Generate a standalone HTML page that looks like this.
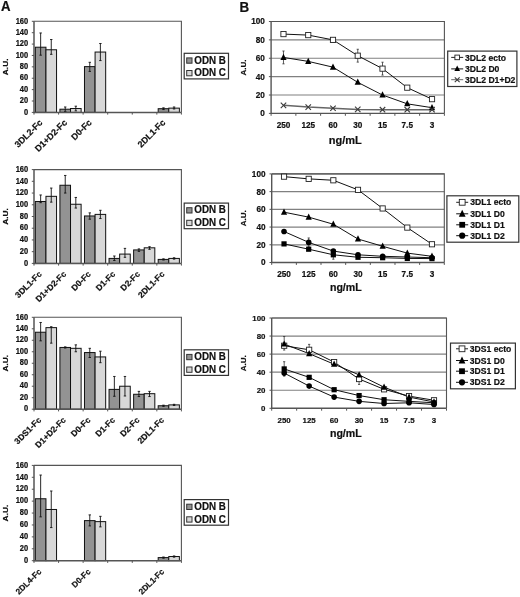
<!DOCTYPE html>
<html><head><meta charset="utf-8"><style>
html,body{margin:0;padding:0;background:#fff;width:520px;height:597px;overflow:hidden}
svg{display:block;will-change:transform}
text{font-family:"Liberation Sans", sans-serif;font-weight:bold;fill:#111;stroke:#111;stroke-width:0.2px}
</style></head><body>
<svg width="520" height="597" viewBox="0 0 520 597">
<rect width="520" height="597" fill="#fff"/>
<text transform="translate(1.0 11.1) scale(1 1.08)" font-size="13.2">A</text>
<text transform="translate(239.5 11.8) scale(1 1.09)" font-size="13.4">B</text>
<path d="M34 21.3H181.4V112.4" fill="none" stroke="#555" stroke-width="1.1"/>
<rect x="35.35" y="47.21" width="10.6" height="65.19" fill="#939393" stroke="#111" stroke-width="1"/>
<rect x="45.95" y="49.77" width="10.6" height="62.63" fill="#d8d8d8" stroke="#111" stroke-width="1"/>
<path d="M40.65 55.18V32.97M39.45 32.97H41.85M39.45 55.18H41.85" stroke="#111" stroke-width="0.9" fill="none"/>
<path d="M51.25 54.32V39.52M50.05 39.52H52.45M50.05 54.32H52.45" stroke="#111" stroke-width="0.9" fill="none"/>
<rect x="59.92" y="109.21" width="10.6" height="3.19" fill="#939393" stroke="#111" stroke-width="1"/>
<rect x="70.52" y="108.53" width="10.6" height="3.87" fill="#d8d8d8" stroke="#111" stroke-width="1"/>
<path d="M65.22 111.43V106.99M64.02 106.99H66.42M64.02 111.43H66.42" stroke="#111" stroke-width="0.9" fill="none"/>
<path d="M75.82 110.86V106.19M74.62 106.19H77.02M74.62 110.86H77.02" stroke="#111" stroke-width="0.9" fill="none"/>
<rect x="84.48" y="66.62" width="10.6" height="45.78" fill="#939393" stroke="#111" stroke-width="1"/>
<rect x="95.08" y="52.05" width="10.6" height="60.35" fill="#d8d8d8" stroke="#111" stroke-width="1"/>
<path d="M89.78 71.41V62.3M88.58 62.3H90.98M88.58 71.41H90.98" stroke="#111" stroke-width="0.9" fill="none"/>
<path d="M100.38 60.59V43.51M99.18 43.51H101.58M99.18 60.59H101.58" stroke="#111" stroke-width="0.9" fill="none"/>
<rect x="158.18" y="108.7" width="10.6" height="3.7" fill="#939393" stroke="#111" stroke-width="1"/>
<rect x="168.78" y="108.13" width="10.6" height="4.27" fill="#d8d8d8" stroke="#111" stroke-width="1"/>
<path d="M163.48 109.55V107.84M162.28 107.84H164.68M162.28 109.55H164.68" stroke="#111" stroke-width="0.9" fill="none"/>
<path d="M174.08 108.98V106.99M172.88 106.99H175.28M172.88 108.98H175.28" stroke="#111" stroke-width="0.9" fill="none"/>
<path d="M34 21.3V112.4H181.4" fill="none" stroke="#555" stroke-width="1.5"/>
<path d="M31.8 112.4H34" stroke="#555" stroke-width="1"/>
<text font-size="7.5" text-anchor="end" transform="translate(28.2 114.6) scale(1 1.15)">0</text>
<path d="M31.8 101.01H34" stroke="#555" stroke-width="1"/>
<text font-size="7.5" text-anchor="end" transform="translate(28.2 103.21) scale(1 1.15)">20</text>
<path d="M31.8 89.62H34" stroke="#555" stroke-width="1"/>
<text font-size="7.5" text-anchor="end" transform="translate(28.2 91.83) scale(1 1.15)">40</text>
<path d="M31.8 78.24H34" stroke="#555" stroke-width="1"/>
<text font-size="7.5" text-anchor="end" transform="translate(28.2 80.44) scale(1 1.15)">60</text>
<path d="M31.8 66.85H34" stroke="#555" stroke-width="1"/>
<text font-size="7.5" text-anchor="end" transform="translate(28.2 69.05) scale(1 1.15)">80</text>
<path d="M31.8 55.46H34" stroke="#555" stroke-width="1"/>
<text font-size="7.5" text-anchor="end" transform="translate(28.2 57.66) scale(1 1.15)">100</text>
<path d="M31.8 44.08H34" stroke="#555" stroke-width="1"/>
<text font-size="7.5" text-anchor="end" transform="translate(28.2 46.28) scale(1 1.15)">120</text>
<path d="M31.8 32.69H34" stroke="#555" stroke-width="1"/>
<text font-size="7.5" text-anchor="end" transform="translate(28.2 34.89) scale(1 1.15)">140</text>
<path d="M31.8 21.3H34" stroke="#555" stroke-width="1"/>
<text font-size="7.5" text-anchor="end" transform="translate(28.2 23.5) scale(1 1.15)">160</text>
<path d="M34 112.4V114.6" stroke="#555" stroke-width="1"/>
<path d="M58.57 112.4V114.6" stroke="#555" stroke-width="1"/>
<path d="M83.13 112.4V114.6" stroke="#555" stroke-width="1"/>
<path d="M107.7 112.4V114.6" stroke="#555" stroke-width="1"/>
<path d="M132.27 112.4V114.6" stroke="#555" stroke-width="1"/>
<path d="M156.83 112.4V114.6" stroke="#555" stroke-width="1"/>
<path d="M181.4 112.4V114.6" stroke="#555" stroke-width="1"/>
<text x="43.08" y="123.2" font-size="8.9" text-anchor="end" transform="rotate(-45 43.08 123.2)">3DL2-Fc</text>
<text x="67.65" y="123.2" font-size="8.9" text-anchor="end" transform="rotate(-45 67.65 123.2)">D1+D2-Fc</text>
<text x="92.22" y="123.2" font-size="8.9" text-anchor="end" transform="rotate(-45 92.22 123.2)">D0-Fc</text>
<text x="165.92" y="123.2" font-size="8.9" text-anchor="end" transform="rotate(-45 165.92 123.2)">2DL1-Fc</text>
<text font-size="7.6" text-anchor="middle" transform="translate(8.2 66.85) rotate(-90) scale(1.1 1)">A.U.</text>
<rect x="184.2" y="53.3" width="44.3" height="25.6" fill="#fff" stroke="#333" stroke-width="1.2"/>
<rect x="186.7" y="57.9" width="5.3" height="5.3" fill="#939393" stroke="#333" stroke-width="1"/>
<text transform="translate(194.3 63.6) scale(1 1.1)" font-size="9.8">ODN B</text>
<rect x="186.7" y="70.5" width="5.3" height="5.3" fill="#d8d8d8" stroke="#333" stroke-width="1"/>
<text transform="translate(194.3 76.2) scale(1 1.1)" font-size="9.8">ODN C</text>
<path d="M34 169.6H181.4V263.4" fill="none" stroke="#555" stroke-width="1.1"/>
<rect x="35.35" y="201.49" width="10.6" height="61.91" fill="#939393" stroke="#111" stroke-width="1"/>
<rect x="45.95" y="196.33" width="10.6" height="67.07" fill="#d8d8d8" stroke="#111" stroke-width="1"/>
<path d="M40.65 202.66V194.98M39.45 194.98H41.85M39.45 202.66H41.85" stroke="#111" stroke-width="0.9" fill="none"/>
<path d="M51.25 202.14V188.07M50.05 188.07H52.45M50.05 202.14H52.45" stroke="#111" stroke-width="0.9" fill="none"/>
<rect x="59.92" y="185.25" width="10.6" height="78.15" fill="#939393" stroke="#111" stroke-width="1"/>
<rect x="70.52" y="204.25" width="10.6" height="59.15" fill="#d8d8d8" stroke="#111" stroke-width="1"/>
<path d="M65.22 193.05V175.46M64.02 175.46H66.42M64.02 193.05H66.42" stroke="#111" stroke-width="0.9" fill="none"/>
<path d="M75.82 208.06V197.45M74.62 197.45H77.02M74.62 208.06H77.02" stroke="#111" stroke-width="0.9" fill="none"/>
<rect x="84.48" y="215.97" width="10.6" height="47.43" fill="#939393" stroke="#111" stroke-width="1"/>
<rect x="95.08" y="214.39" width="10.6" height="49.01" fill="#d8d8d8" stroke="#111" stroke-width="1"/>
<path d="M89.78 219.2V212.87M88.58 212.87H90.98M88.58 219.2H90.98" stroke="#111" stroke-width="0.9" fill="none"/>
<path d="M100.38 218.55V210.29M99.18 210.29H101.58M99.18 218.55H101.58" stroke="#111" stroke-width="0.9" fill="none"/>
<rect x="109.05" y="258.42" width="10.6" height="4.98" fill="#939393" stroke="#111" stroke-width="1"/>
<rect x="119.65" y="254.08" width="10.6" height="9.32" fill="#d8d8d8" stroke="#111" stroke-width="1"/>
<path d="M114.35 260.53V256.01M113.15 256.01H115.55M113.15 260.53H115.55" stroke="#111" stroke-width="0.9" fill="none"/>
<path d="M124.95 257.3V248.39M123.75 248.39H126.15M123.75 257.3H126.15" stroke="#111" stroke-width="0.9" fill="none"/>
<rect x="133.62" y="249.92" width="10.6" height="13.48" fill="#939393" stroke="#111" stroke-width="1"/>
<rect x="144.22" y="247.81" width="10.6" height="15.59" fill="#d8d8d8" stroke="#111" stroke-width="1"/>
<path d="M138.92 251.38V248.92M137.72 248.92H140.12M137.72 251.38H140.12" stroke="#111" stroke-width="0.9" fill="none"/>
<path d="M149.52 249.33V246.69M148.32 246.69H150.72M148.32 249.33H150.72" stroke="#111" stroke-width="0.9" fill="none"/>
<rect x="158.18" y="259.41" width="10.6" height="3.99" fill="#939393" stroke="#111" stroke-width="1"/>
<rect x="168.78" y="258.42" width="10.6" height="4.98" fill="#d8d8d8" stroke="#111" stroke-width="1"/>
<path d="M163.48 260V258.83M162.28 258.83H164.68M162.28 260H164.68" stroke="#111" stroke-width="0.9" fill="none"/>
<path d="M174.08 259.12V257.77M172.88 257.77H175.28M172.88 259.12H175.28" stroke="#111" stroke-width="0.9" fill="none"/>
<path d="M34 169.6V263.4H181.4" fill="none" stroke="#555" stroke-width="1.5"/>
<path d="M31.8 263.4H34" stroke="#555" stroke-width="1"/>
<text font-size="7.5" text-anchor="end" transform="translate(28.2 265.6) scale(1 1.15)">0</text>
<path d="M31.8 251.67H34" stroke="#555" stroke-width="1"/>
<text font-size="7.5" text-anchor="end" transform="translate(28.2 253.87) scale(1 1.15)">20</text>
<path d="M31.8 239.95H34" stroke="#555" stroke-width="1"/>
<text font-size="7.5" text-anchor="end" transform="translate(28.2 242.15) scale(1 1.15)">40</text>
<path d="M31.8 228.22H34" stroke="#555" stroke-width="1"/>
<text font-size="7.5" text-anchor="end" transform="translate(28.2 230.42) scale(1 1.15)">60</text>
<path d="M31.8 216.5H34" stroke="#555" stroke-width="1"/>
<text font-size="7.5" text-anchor="end" transform="translate(28.2 218.7) scale(1 1.15)">80</text>
<path d="M31.8 204.77H34" stroke="#555" stroke-width="1"/>
<text font-size="7.5" text-anchor="end" transform="translate(28.2 206.97) scale(1 1.15)">100</text>
<path d="M31.8 193.05H34" stroke="#555" stroke-width="1"/>
<text font-size="7.5" text-anchor="end" transform="translate(28.2 195.25) scale(1 1.15)">120</text>
<path d="M31.8 181.32H34" stroke="#555" stroke-width="1"/>
<text font-size="7.5" text-anchor="end" transform="translate(28.2 183.52) scale(1 1.15)">140</text>
<path d="M31.8 169.6H34" stroke="#555" stroke-width="1"/>
<text font-size="7.5" text-anchor="end" transform="translate(28.2 171.8) scale(1 1.15)">160</text>
<path d="M34 263.4V265.6" stroke="#555" stroke-width="1"/>
<path d="M58.57 263.4V265.6" stroke="#555" stroke-width="1"/>
<path d="M83.13 263.4V265.6" stroke="#555" stroke-width="1"/>
<path d="M107.7 263.4V265.6" stroke="#555" stroke-width="1"/>
<path d="M132.27 263.4V265.6" stroke="#555" stroke-width="1"/>
<path d="M156.83 263.4V265.6" stroke="#555" stroke-width="1"/>
<path d="M181.4 263.4V265.6" stroke="#555" stroke-width="1"/>
<text x="42.28" y="274.7" font-size="8.5" text-anchor="end" transform="rotate(-45 42.28 274.7)">3DL1-Fc</text>
<text x="66.85" y="274.7" font-size="8.5" text-anchor="end" transform="rotate(-45 66.85 274.7)">D1+D2-Fc</text>
<text x="91.42" y="274.7" font-size="8.5" text-anchor="end" transform="rotate(-45 91.42 274.7)">D0-Fc</text>
<text x="115.98" y="274.7" font-size="8.5" text-anchor="end" transform="rotate(-45 115.98 274.7)">D1-Fc</text>
<text x="140.55" y="274.7" font-size="8.5" text-anchor="end" transform="rotate(-45 140.55 274.7)">D2-Fc</text>
<text x="165.12" y="274.7" font-size="8.5" text-anchor="end" transform="rotate(-45 165.12 274.7)">2DL1-Fc</text>
<text font-size="7.6" text-anchor="middle" transform="translate(8.2 216.5) rotate(-90) scale(1.1 1)">A.U.</text>
<rect x="184.2" y="203.1" width="44.3" height="25.6" fill="#fff" stroke="#333" stroke-width="1.2"/>
<rect x="186.7" y="207.7" width="5.3" height="5.3" fill="#939393" stroke="#333" stroke-width="1"/>
<text transform="translate(194.3 213.4) scale(1 1.1)" font-size="9.8">ODN B</text>
<rect x="186.7" y="220.3" width="5.3" height="5.3" fill="#d8d8d8" stroke="#333" stroke-width="1"/>
<text transform="translate(194.3 226) scale(1 1.1)" font-size="9.8">ODN C</text>
<path d="M34 317.3H181.4V409.2" fill="none" stroke="#555" stroke-width="1.1"/>
<rect x="35.35" y="332.23" width="10.6" height="76.97" fill="#939393" stroke="#111" stroke-width="1"/>
<rect x="45.95" y="327.64" width="10.6" height="81.56" fill="#d8d8d8" stroke="#111" stroke-width="1"/>
<path d="M40.65 340.85V322.47M39.45 322.47H41.85M39.45 340.85H41.85" stroke="#111" stroke-width="0.9" fill="none"/>
<path d="M51.25 343.15V326.72M50.05 326.72H52.45M50.05 343.15H52.45" stroke="#111" stroke-width="0.9" fill="none"/>
<rect x="59.92" y="347.45" width="10.6" height="61.75" fill="#939393" stroke="#111" stroke-width="1"/>
<rect x="70.52" y="348.32" width="10.6" height="60.88" fill="#d8d8d8" stroke="#111" stroke-width="1"/>
<path d="M65.22 348.03V346.88M64.02 346.88H66.42M64.02 348.03H66.42" stroke="#111" stroke-width="0.9" fill="none"/>
<path d="M75.82 351.76V344.87M74.62 344.87H77.02M74.62 351.76H77.02" stroke="#111" stroke-width="0.9" fill="none"/>
<rect x="84.48" y="352.57" width="10.6" height="56.63" fill="#939393" stroke="#111" stroke-width="1"/>
<rect x="95.08" y="356.93" width="10.6" height="52.27" fill="#d8d8d8" stroke="#111" stroke-width="1"/>
<path d="M89.78 357.51V348.32M88.58 348.32H90.98M88.58 357.51H90.98" stroke="#111" stroke-width="0.9" fill="none"/>
<path d="M100.38 362.68V351.19M99.18 351.19H101.58M99.18 362.68H101.58" stroke="#111" stroke-width="0.9" fill="none"/>
<rect x="109.05" y="389.38" width="10.6" height="19.82" fill="#939393" stroke="#111" stroke-width="1"/>
<rect x="119.65" y="386.23" width="10.6" height="22.97" fill="#d8d8d8" stroke="#111" stroke-width="1"/>
<path d="M114.35 396.28V376.46M113.15 376.46H115.55M113.15 396.28H115.55" stroke="#111" stroke-width="0.9" fill="none"/>
<path d="M124.95 395.99V376.46M123.75 376.46H126.15M123.75 395.99H126.15" stroke="#111" stroke-width="0.9" fill="none"/>
<rect x="133.62" y="394.27" width="10.6" height="14.93" fill="#939393" stroke="#111" stroke-width="1"/>
<rect x="144.22" y="393.69" width="10.6" height="15.51" fill="#d8d8d8" stroke="#111" stroke-width="1"/>
<path d="M138.92 396.56V391.39M137.72 391.39H140.12M137.72 396.56H140.12" stroke="#111" stroke-width="0.9" fill="none"/>
<path d="M149.52 396.56V391.39M148.32 391.39H150.72M148.32 396.56H150.72" stroke="#111" stroke-width="0.9" fill="none"/>
<rect x="158.18" y="405.75" width="10.6" height="3.45" fill="#939393" stroke="#111" stroke-width="1"/>
<rect x="168.78" y="404.89" width="10.6" height="4.31" fill="#d8d8d8" stroke="#111" stroke-width="1"/>
<path d="M163.48 406.33V405.18M162.28 405.18H164.68M162.28 406.33H164.68" stroke="#111" stroke-width="0.9" fill="none"/>
<path d="M174.08 405.47V404.32M172.88 404.32H175.28M172.88 405.47H175.28" stroke="#111" stroke-width="0.9" fill="none"/>
<path d="M34 317.3V409.2H181.4" fill="none" stroke="#555" stroke-width="1.5"/>
<path d="M31.8 409.2H34" stroke="#555" stroke-width="1"/>
<text font-size="7.5" text-anchor="end" transform="translate(28.2 411.4) scale(1 1.15)">0</text>
<path d="M31.8 397.71H34" stroke="#555" stroke-width="1"/>
<text font-size="7.5" text-anchor="end" transform="translate(28.2 399.91) scale(1 1.15)">20</text>
<path d="M31.8 386.23H34" stroke="#555" stroke-width="1"/>
<text font-size="7.5" text-anchor="end" transform="translate(28.2 388.43) scale(1 1.15)">40</text>
<path d="M31.8 374.74H34" stroke="#555" stroke-width="1"/>
<text font-size="7.5" text-anchor="end" transform="translate(28.2 376.94) scale(1 1.15)">60</text>
<path d="M31.8 363.25H34" stroke="#555" stroke-width="1"/>
<text font-size="7.5" text-anchor="end" transform="translate(28.2 365.45) scale(1 1.15)">80</text>
<path d="M31.8 351.76H34" stroke="#555" stroke-width="1"/>
<text font-size="7.5" text-anchor="end" transform="translate(28.2 353.96) scale(1 1.15)">100</text>
<path d="M31.8 340.27H34" stroke="#555" stroke-width="1"/>
<text font-size="7.5" text-anchor="end" transform="translate(28.2 342.47) scale(1 1.15)">120</text>
<path d="M31.8 328.79H34" stroke="#555" stroke-width="1"/>
<text font-size="7.5" text-anchor="end" transform="translate(28.2 330.99) scale(1 1.15)">140</text>
<path d="M31.8 317.3H34" stroke="#555" stroke-width="1"/>
<text font-size="7.5" text-anchor="end" transform="translate(28.2 319.5) scale(1 1.15)">160</text>
<path d="M34 409.2V411.4" stroke="#555" stroke-width="1"/>
<path d="M58.57 409.2V411.4" stroke="#555" stroke-width="1"/>
<path d="M83.13 409.2V411.4" stroke="#555" stroke-width="1"/>
<path d="M107.7 409.2V411.4" stroke="#555" stroke-width="1"/>
<path d="M132.27 409.2V411.4" stroke="#555" stroke-width="1"/>
<path d="M156.83 409.2V411.4" stroke="#555" stroke-width="1"/>
<path d="M181.4 409.2V411.4" stroke="#555" stroke-width="1"/>
<text x="41.88" y="420.6" font-size="8.5" text-anchor="end" transform="rotate(-45 41.88 420.6)">3DS1-Fc</text>
<text x="66.45" y="420.6" font-size="8.5" text-anchor="end" transform="rotate(-45 66.45 420.6)">D1+D2-Fc</text>
<text x="91.02" y="420.6" font-size="8.5" text-anchor="end" transform="rotate(-45 91.02 420.6)">D0-Fc</text>
<text x="115.58" y="420.6" font-size="8.5" text-anchor="end" transform="rotate(-45 115.58 420.6)">D1-Fc</text>
<text x="140.15" y="420.6" font-size="8.5" text-anchor="end" transform="rotate(-45 140.15 420.6)">D2-Fc</text>
<text x="164.72" y="420.6" font-size="8.5" text-anchor="end" transform="rotate(-45 164.72 420.6)">2DL1-Fc</text>
<text font-size="7.6" text-anchor="middle" transform="translate(8.2 363.25) rotate(-90) scale(1.1 1)">A.U.</text>
<rect x="184.2" y="349.8" width="44.3" height="25.6" fill="#fff" stroke="#333" stroke-width="1.2"/>
<rect x="186.7" y="354.4" width="5.3" height="5.3" fill="#939393" stroke="#333" stroke-width="1"/>
<text transform="translate(194.3 360.1) scale(1 1.1)" font-size="9.8">ODN B</text>
<rect x="186.7" y="367" width="5.3" height="5.3" fill="#d8d8d8" stroke="#333" stroke-width="1"/>
<text transform="translate(194.3 372.7) scale(1 1.1)" font-size="9.8">ODN C</text>
<path d="M34 465.4H181.4V560.7" fill="none" stroke="#555" stroke-width="1.1"/>
<rect x="35.35" y="498.75" width="10.6" height="61.95" fill="#939393" stroke="#111" stroke-width="1"/>
<rect x="45.95" y="509.48" width="10.6" height="51.22" fill="#d8d8d8" stroke="#111" stroke-width="1"/>
<path d="M40.65 516.86V475.05M39.45 475.05H41.85M39.45 516.86H41.85" stroke="#111" stroke-width="0.9" fill="none"/>
<path d="M51.25 527.58V491.01M50.05 491.01H52.45M50.05 527.58H52.45" stroke="#111" stroke-width="0.9" fill="none"/>
<rect x="84.48" y="520.61" width="10.6" height="40.09" fill="#939393" stroke="#111" stroke-width="1"/>
<rect x="95.08" y="521.63" width="10.6" height="39.07" fill="#d8d8d8" stroke="#111" stroke-width="1"/>
<path d="M89.78 525.92V514.9M88.58 514.9H90.98M88.58 525.92H90.98" stroke="#111" stroke-width="0.9" fill="none"/>
<path d="M100.38 526.87V516.33M99.18 516.33H101.58M99.18 526.87H101.58" stroke="#111" stroke-width="0.9" fill="none"/>
<rect x="158.18" y="557.6" width="10.6" height="3.1" fill="#939393" stroke="#111" stroke-width="1"/>
<rect x="168.78" y="556.53" width="10.6" height="4.17" fill="#d8d8d8" stroke="#111" stroke-width="1"/>
<path d="M163.48 558.2V557.01M162.28 557.01H164.68M162.28 558.2H164.68" stroke="#111" stroke-width="0.9" fill="none"/>
<path d="M174.08 557.13V555.94M172.88 555.94H175.28M172.88 557.13H175.28" stroke="#111" stroke-width="0.9" fill="none"/>
<path d="M34 465.4V560.7H181.4" fill="none" stroke="#555" stroke-width="1.5"/>
<path d="M31.8 560.7H34" stroke="#555" stroke-width="1"/>
<text font-size="7.5" text-anchor="end" transform="translate(28.2 562.9) scale(1 1.15)">0</text>
<path d="M31.8 548.79H34" stroke="#555" stroke-width="1"/>
<text font-size="7.5" text-anchor="end" transform="translate(28.2 550.99) scale(1 1.15)">20</text>
<path d="M31.8 536.88H34" stroke="#555" stroke-width="1"/>
<text font-size="7.5" text-anchor="end" transform="translate(28.2 539.08) scale(1 1.15)">40</text>
<path d="M31.8 524.96H34" stroke="#555" stroke-width="1"/>
<text font-size="7.5" text-anchor="end" transform="translate(28.2 527.16) scale(1 1.15)">60</text>
<path d="M31.8 513.05H34" stroke="#555" stroke-width="1"/>
<text font-size="7.5" text-anchor="end" transform="translate(28.2 515.25) scale(1 1.15)">80</text>
<path d="M31.8 501.14H34" stroke="#555" stroke-width="1"/>
<text font-size="7.5" text-anchor="end" transform="translate(28.2 503.34) scale(1 1.15)">100</text>
<path d="M31.8 489.23H34" stroke="#555" stroke-width="1"/>
<text font-size="7.5" text-anchor="end" transform="translate(28.2 491.43) scale(1 1.15)">120</text>
<path d="M31.8 477.31H34" stroke="#555" stroke-width="1"/>
<text font-size="7.5" text-anchor="end" transform="translate(28.2 479.51) scale(1 1.15)">140</text>
<path d="M31.8 465.4H34" stroke="#555" stroke-width="1"/>
<text font-size="7.5" text-anchor="end" transform="translate(28.2 467.6) scale(1 1.15)">160</text>
<path d="M34 560.7V562.9" stroke="#555" stroke-width="1"/>
<path d="M58.57 560.7V562.9" stroke="#555" stroke-width="1"/>
<path d="M83.13 560.7V562.9" stroke="#555" stroke-width="1"/>
<path d="M107.7 560.7V562.9" stroke="#555" stroke-width="1"/>
<path d="M132.27 560.7V562.9" stroke="#555" stroke-width="1"/>
<path d="M156.83 560.7V562.9" stroke="#555" stroke-width="1"/>
<path d="M181.4 560.7V562.9" stroke="#555" stroke-width="1"/>
<text x="41.98" y="572.2" font-size="8.2" text-anchor="end" transform="rotate(-45 41.98 572.2)">2DL4-Fc</text>
<text x="91.12" y="572.2" font-size="8.2" text-anchor="end" transform="rotate(-45 91.12 572.2)">D0-Fc</text>
<text x="164.82" y="572.2" font-size="8.2" text-anchor="end" transform="rotate(-45 164.82 572.2)">2DL1-Fc</text>
<text font-size="7.6" text-anchor="middle" transform="translate(8.2 513.05) rotate(-90) scale(1.1 1)">A.U.</text>
<rect x="184.2" y="499.6" width="44.3" height="25.6" fill="#fff" stroke="#333" stroke-width="1.2"/>
<rect x="186.7" y="504.2" width="5.3" height="5.3" fill="#939393" stroke="#333" stroke-width="1"/>
<text transform="translate(194.3 509.9) scale(1 1.1)" font-size="9.8">ODN B</text>
<rect x="186.7" y="516.8" width="5.3" height="5.3" fill="#d8d8d8" stroke="#333" stroke-width="1"/>
<text transform="translate(194.3 522.5) scale(1 1.1)" font-size="9.8">ODN C</text>
<path d="M271.1 95.02H444.4" stroke="#808080" stroke-width="1.2"/>
<path d="M271.1 76.64H444.4" stroke="#808080" stroke-width="1.2"/>
<path d="M271.1 58.26H444.4" stroke="#808080" stroke-width="1.2"/>
<path d="M271.1 39.88H444.4" stroke="#808080" stroke-width="1.2"/>
<path d="M271.1 21.5H444.4" stroke="#808080" stroke-width="1.2"/>
<path d="M271.1 21.5H444.4V113.4" fill="none" stroke="#555" stroke-width="1.1"/>
<path d="M271.1 21.5V113.4H444.4" fill="none" stroke="#555" stroke-width="1.4"/>
<path d="M268.9 113.4H271.1" stroke="#555" stroke-width="1"/>
<text x="264.9" y="116.3" font-size="8.2" text-anchor="end">0</text>
<path d="M268.9 95.02H271.1" stroke="#555" stroke-width="1"/>
<text x="264.9" y="97.92" font-size="8.2" text-anchor="end">20</text>
<path d="M268.9 76.64H271.1" stroke="#555" stroke-width="1"/>
<text x="264.9" y="79.54" font-size="8.2" text-anchor="end">40</text>
<path d="M268.9 58.26H271.1" stroke="#555" stroke-width="1"/>
<text x="264.9" y="61.16" font-size="8.2" text-anchor="end">60</text>
<path d="M268.9 39.88H271.1" stroke="#555" stroke-width="1"/>
<text x="264.9" y="42.78" font-size="8.2" text-anchor="end">80</text>
<path d="M268.9 21.5H271.1" stroke="#555" stroke-width="1"/>
<text x="264.9" y="24.4" font-size="8.2" text-anchor="end">100</text>
<path d="M271.1 113.4V115.8" stroke="#555" stroke-width="1"/>
<path d="M295.86 113.4V115.8" stroke="#555" stroke-width="1"/>
<path d="M320.61 113.4V115.8" stroke="#555" stroke-width="1"/>
<path d="M345.37 113.4V115.8" stroke="#555" stroke-width="1"/>
<path d="M370.13 113.4V115.8" stroke="#555" stroke-width="1"/>
<path d="M394.89 113.4V115.8" stroke="#555" stroke-width="1"/>
<path d="M419.64 113.4V115.8" stroke="#555" stroke-width="1"/>
<path d="M444.4 113.4V115.8" stroke="#555" stroke-width="1"/>
<text x="283.48" y="128" font-size="8.2" text-anchor="middle">250</text>
<text x="308.24" y="128" font-size="8.2" text-anchor="middle">125</text>
<text x="332.99" y="128" font-size="8.2" text-anchor="middle">60</text>
<text x="357.75" y="128" font-size="8.2" text-anchor="middle">30</text>
<text x="382.51" y="128" font-size="8.2" text-anchor="middle">15</text>
<text x="407.26" y="128" font-size="8.2" text-anchor="middle">7.5</text>
<text x="432.02" y="128" font-size="8.2" text-anchor="middle">3</text>
<text x="345.2" y="143.5" font-size="11" text-anchor="middle">ng/mL</text>
<text x="246.2" y="67.45" font-size="8.0" text-anchor="middle" transform="rotate(-90 246.2 67.45)">A.U.</text>
<path d="M357.75 62.12V49.25M356.65 49.25H358.85M356.65 62.12H358.85" stroke="#333" stroke-width="0.8" fill="none"/>
<path d="M382.51 75.08V62.21M381.41 62.21H383.61M381.41 75.08H383.61" stroke="#333" stroke-width="0.8" fill="none"/>
<path d="M283.48 63.87V51M282.38 51H284.58M282.38 63.87H284.58" stroke="#333" stroke-width="0.8" fill="none"/>
<polyline points="283.48,34.09 308.24,35.1 332.99,39.88 357.75,55.69 382.51,68.64 407.26,87.67 432.02,99.16" fill="none" stroke="#111" stroke-width="1"/>
<polyline points="283.48,57.43 308.24,61.38 332.99,67.17 357.75,82.34 382.51,95.02 407.26,103.84 432.02,107.7" fill="none" stroke="#111" stroke-width="1"/>
<polyline points="283.48,105.31 308.24,107.06 332.99,108.25 357.75,109.45 382.51,109.72 407.26,109.72 432.02,109.72" fill="none" stroke="#666" stroke-width="1.4"/>
<rect x="280.88" y="31.49" width="5.2" height="5.2" fill="#fff" stroke="#222" stroke-width="0.9"/>
<rect x="305.64" y="32.5" width="5.2" height="5.2" fill="#fff" stroke="#222" stroke-width="0.9"/>
<rect x="330.39" y="37.28" width="5.2" height="5.2" fill="#fff" stroke="#222" stroke-width="0.9"/>
<rect x="355.15" y="53.09" width="5.2" height="5.2" fill="#fff" stroke="#222" stroke-width="0.9"/>
<rect x="379.91" y="66.04" width="5.2" height="5.2" fill="#fff" stroke="#222" stroke-width="0.9"/>
<rect x="404.66" y="85.07" width="5.2" height="5.2" fill="#fff" stroke="#222" stroke-width="0.9"/>
<rect x="429.42" y="96.56" width="5.2" height="5.2" fill="#fff" stroke="#222" stroke-width="0.9"/>
<path d="M283.48 53.71L286.58 59.95H280.38Z" fill="#000"/>
<path d="M308.24 57.66L311.34 63.9H305.14Z" fill="#000"/>
<path d="M332.99 63.45L336.09 69.69H329.89Z" fill="#000"/>
<path d="M357.75 78.62L360.85 84.86H354.65Z" fill="#000"/>
<path d="M382.51 91.3L385.61 97.54H379.41Z" fill="#000"/>
<path d="M407.26 100.12L410.36 106.36H404.16Z" fill="#000"/>
<path d="M432.02 103.98L435.12 110.22H428.92Z" fill="#000"/>
<path d="M280.75 102.58L286.21 108.04M280.75 108.04L286.21 102.58" stroke="#3a3a3a" stroke-width="1.1" fill="none"/>
<path d="M305.51 104.33L310.97 109.79M305.51 109.79L310.97 104.33" stroke="#3a3a3a" stroke-width="1.1" fill="none"/>
<path d="M330.26 105.52L335.72 110.98M330.26 110.98L335.72 105.52" stroke="#3a3a3a" stroke-width="1.1" fill="none"/>
<path d="M355.02 106.72L360.48 112.18M355.02 112.18L360.48 106.72" stroke="#3a3a3a" stroke-width="1.1" fill="none"/>
<path d="M379.78 106.99L385.24 112.45M379.78 112.45L385.24 106.99" stroke="#3a3a3a" stroke-width="1.1" fill="none"/>
<path d="M404.53 106.99L409.99 112.45M404.53 112.45L409.99 106.99" stroke="#3a3a3a" stroke-width="1.1" fill="none"/>
<path d="M429.29 106.99L434.75 112.45M429.29 112.45L434.75 106.99" stroke="#3a3a3a" stroke-width="1.1" fill="none"/>
<rect x="447.7" y="51.1" width="69.2" height="35.4" fill="#fff" stroke="#333" stroke-width="1.2"/>
<path d="M451.2 57.4H463.2" stroke="#222" stroke-width="1"/>
<rect x="454.9" y="55.1" width="4.6" height="4.6" fill="#fff" stroke="#222" stroke-width="0.9"/>
<text x="465" y="60.5" font-size="8.6">3DL2 ecto</text>
<path d="M451.2 68.9H463.2" stroke="#111" stroke-width="1"/>
<path d="M457.2 65.54L460 71.06H454.4Z" fill="#000"/>
<text x="465" y="72" font-size="8.6">3DL2 D0</text>
<path d="M451.2 79.7H463.2" stroke="#666" stroke-width="1"/>
<path d="M454.78 77.28L459.62 82.12M454.78 82.12L459.62 77.28" stroke="#3a3a3a" stroke-width="1.1" fill="none"/>
<text x="465" y="82.8" font-size="8.6">3DL2 D1+D2</text>
<path d="M271.7 244.78H444.3" stroke="#808080" stroke-width="1.2"/>
<path d="M271.7 227.06H444.3" stroke="#808080" stroke-width="1.2"/>
<path d="M271.7 209.34H444.3" stroke="#808080" stroke-width="1.2"/>
<path d="M271.7 191.62H444.3" stroke="#808080" stroke-width="1.2"/>
<path d="M271.7 173.9H444.3" stroke="#808080" stroke-width="1.2"/>
<path d="M271.7 173.9H444.3V262.5" fill="none" stroke="#555" stroke-width="1.1"/>
<path d="M271.7 173.9V262.5H444.3" fill="none" stroke="#555" stroke-width="1.4"/>
<path d="M269.5 262.5H271.7" stroke="#555" stroke-width="1"/>
<text x="265.5" y="265.4" font-size="8.2" text-anchor="end">0</text>
<path d="M269.5 244.78H271.7" stroke="#555" stroke-width="1"/>
<text x="265.5" y="247.68" font-size="8.2" text-anchor="end">20</text>
<path d="M269.5 227.06H271.7" stroke="#555" stroke-width="1"/>
<text x="265.5" y="229.96" font-size="8.2" text-anchor="end">40</text>
<path d="M269.5 209.34H271.7" stroke="#555" stroke-width="1"/>
<text x="265.5" y="212.24" font-size="8.2" text-anchor="end">60</text>
<path d="M269.5 191.62H271.7" stroke="#555" stroke-width="1"/>
<text x="265.5" y="194.52" font-size="8.2" text-anchor="end">80</text>
<path d="M269.5 173.9H271.7" stroke="#555" stroke-width="1"/>
<text x="265.5" y="176.8" font-size="8.2" text-anchor="end">100</text>
<path d="M271.7 262.5V264.9" stroke="#555" stroke-width="1"/>
<path d="M296.36 262.5V264.9" stroke="#555" stroke-width="1"/>
<path d="M321.01 262.5V264.9" stroke="#555" stroke-width="1"/>
<path d="M345.67 262.5V264.9" stroke="#555" stroke-width="1"/>
<path d="M370.33 262.5V264.9" stroke="#555" stroke-width="1"/>
<path d="M394.99 262.5V264.9" stroke="#555" stroke-width="1"/>
<path d="M419.64 262.5V264.9" stroke="#555" stroke-width="1"/>
<path d="M444.3 262.5V264.9" stroke="#555" stroke-width="1"/>
<text x="284.03" y="277.1" font-size="8.2" text-anchor="middle">250</text>
<text x="308.69" y="277.1" font-size="8.2" text-anchor="middle">125</text>
<text x="333.34" y="277.1" font-size="8.2" text-anchor="middle">60</text>
<text x="358" y="277.1" font-size="8.2" text-anchor="middle">30</text>
<text x="382.66" y="277.1" font-size="8.2" text-anchor="middle">15</text>
<text x="407.31" y="277.1" font-size="8.2" text-anchor="middle">7.5</text>
<text x="431.97" y="277.1" font-size="8.2" text-anchor="middle">3</text>
<text x="345.8" y="291.1" font-size="10.6" text-anchor="middle">ng/mL</text>
<text x="246.2" y="218.2" font-size="8.0" text-anchor="middle" transform="rotate(-90 246.2 218.2)">A.U.</text>
<path d="M308.69 246.82V237.96M307.59 237.96H309.79M307.59 246.82H309.79" stroke="#333" stroke-width="0.8" fill="none"/>
<path d="M333.34 259.22V250.36M332.24 250.36H334.44M332.24 259.22H334.44" stroke="#333" stroke-width="0.8" fill="none"/>
<polyline points="284.03,176.65 308.69,178.86 333.34,180.28 358,189.85 382.66,208.45 407.31,227.59 431.97,244.25" fill="none" stroke="#111" stroke-width="1"/>
<polyline points="284.03,212.18 308.69,217.14 333.34,224.22 358,239.02 382.66,246.29 407.31,253.11 431.97,256.3" fill="none" stroke="#111" stroke-width="1"/>
<polyline points="284.03,243.89 308.69,249.21 333.34,254.79 358,257.27 382.66,257.72 407.31,258.42 431.97,258.6" fill="none" stroke="#111" stroke-width="1"/>
<polyline points="284.03,231.49 308.69,242.39 333.34,251.07 358,254.79 382.66,256.3 407.31,257.01 431.97,257.72" fill="none" stroke="#111" stroke-width="1"/>
<rect x="281.43" y="174.05" width="5.2" height="5.2" fill="#fff" stroke="#222" stroke-width="0.9"/>
<rect x="306.09" y="176.26" width="5.2" height="5.2" fill="#fff" stroke="#222" stroke-width="0.9"/>
<rect x="330.74" y="177.68" width="5.2" height="5.2" fill="#fff" stroke="#222" stroke-width="0.9"/>
<rect x="355.4" y="187.25" width="5.2" height="5.2" fill="#fff" stroke="#222" stroke-width="0.9"/>
<rect x="380.06" y="205.85" width="5.2" height="5.2" fill="#fff" stroke="#222" stroke-width="0.9"/>
<rect x="404.71" y="224.99" width="5.2" height="5.2" fill="#fff" stroke="#222" stroke-width="0.9"/>
<rect x="429.37" y="241.65" width="5.2" height="5.2" fill="#fff" stroke="#222" stroke-width="0.9"/>
<path d="M284.03 208.46L287.13 214.7H280.93Z" fill="#000"/>
<path d="M308.69 213.42L311.79 219.66H305.59Z" fill="#000"/>
<path d="M333.34 220.5L336.44 226.74H330.24Z" fill="#000"/>
<path d="M358 235.3L361.1 241.54H354.9Z" fill="#000"/>
<path d="M382.66 242.57L385.76 248.81H379.56Z" fill="#000"/>
<path d="M407.31 249.39L410.41 255.63H404.21Z" fill="#000"/>
<path d="M431.97 252.58L435.07 258.82H428.87Z" fill="#000"/>
<rect x="281.43" y="241.29" width="5.2" height="5.2" fill="#000"/>
<rect x="306.09" y="246.61" width="5.2" height="5.2" fill="#000"/>
<rect x="330.74" y="252.19" width="5.2" height="5.2" fill="#000"/>
<rect x="355.4" y="254.67" width="5.2" height="5.2" fill="#000"/>
<rect x="380.06" y="255.12" width="5.2" height="5.2" fill="#000"/>
<rect x="404.71" y="255.82" width="5.2" height="5.2" fill="#000"/>
<rect x="429.37" y="256" width="5.2" height="5.2" fill="#000"/>
<circle cx="284.03" cy="231.49" r="2.8" fill="#000"/>
<circle cx="308.69" cy="242.39" r="2.8" fill="#000"/>
<circle cx="333.34" cy="251.07" r="2.8" fill="#000"/>
<circle cx="358" cy="254.79" r="2.8" fill="#000"/>
<circle cx="382.66" cy="256.3" r="2.8" fill="#000"/>
<circle cx="407.31" cy="257.01" r="2.8" fill="#000"/>
<circle cx="431.97" cy="257.72" r="2.8" fill="#000"/>
<rect x="446.9" y="195.8" width="71.9" height="46.4" fill="#fff" stroke="#333" stroke-width="1.2"/>
<path d="M456.2 202.3H468.2" stroke="#222" stroke-width="1"/>
<rect x="459.3" y="199.4" width="5.8" height="5.8" fill="#fff" stroke="#222" stroke-width="0.9"/>
<text x="470.3" y="205.4" font-size="8.6">3DL1 ecto</text>
<path d="M456.2 213.8H468.2" stroke="#111" stroke-width="1"/>
<path d="M462.2 209.72L465.6 216.68H458.8Z" fill="#000"/>
<text x="470.3" y="216.9" font-size="8.6">3DL1 D0</text>
<path d="M456.2 224.8H468.2" stroke="#111" stroke-width="1"/>
<rect x="459.3" y="221.9" width="5.8" height="5.8" fill="#000"/>
<text x="470.3" y="227.9" font-size="8.6">3DL1 D1</text>
<path d="M456.2 235.7H468.2" stroke="#111" stroke-width="1"/>
<circle cx="462.2" cy="235.7" r="3.1" fill="#000"/>
<text x="470.3" y="238.8" font-size="8.6">3DL1 D2</text>
<path d="M271.7 390.24H446.5" stroke="#808080" stroke-width="1.2"/>
<path d="M271.7 372.18H446.5" stroke="#808080" stroke-width="1.2"/>
<path d="M271.7 354.12H446.5" stroke="#808080" stroke-width="1.2"/>
<path d="M271.7 336.06H446.5" stroke="#808080" stroke-width="1.2"/>
<path d="M271.7 318H446.5" stroke="#808080" stroke-width="1.2"/>
<path d="M271.7 318H446.5V408.3" fill="none" stroke="#555" stroke-width="1.1"/>
<path d="M271.7 318V408.3H446.5" fill="none" stroke="#555" stroke-width="1.4"/>
<path d="M269.5 408.3H271.7" stroke="#555" stroke-width="1"/>
<text x="265.5" y="411.2" font-size="7.9" text-anchor="end">0</text>
<path d="M269.5 390.24H271.7" stroke="#555" stroke-width="1"/>
<text x="265.5" y="393.14" font-size="7.9" text-anchor="end">20</text>
<path d="M269.5 372.18H271.7" stroke="#555" stroke-width="1"/>
<text x="265.5" y="375.08" font-size="7.9" text-anchor="end">40</text>
<path d="M269.5 354.12H271.7" stroke="#555" stroke-width="1"/>
<text x="265.5" y="357.02" font-size="7.9" text-anchor="end">60</text>
<path d="M269.5 336.06H271.7" stroke="#555" stroke-width="1"/>
<text x="265.5" y="338.96" font-size="7.9" text-anchor="end">80</text>
<path d="M269.5 318H271.7" stroke="#555" stroke-width="1"/>
<text x="265.5" y="320.9" font-size="7.9" text-anchor="end">100</text>
<path d="M271.7 408.3V410.7" stroke="#555" stroke-width="1"/>
<path d="M296.67 408.3V410.7" stroke="#555" stroke-width="1"/>
<path d="M321.64 408.3V410.7" stroke="#555" stroke-width="1"/>
<path d="M346.61 408.3V410.7" stroke="#555" stroke-width="1"/>
<path d="M371.59 408.3V410.7" stroke="#555" stroke-width="1"/>
<path d="M396.56 408.3V410.7" stroke="#555" stroke-width="1"/>
<path d="M421.53 408.3V410.7" stroke="#555" stroke-width="1"/>
<path d="M446.5 408.3V410.7" stroke="#555" stroke-width="1"/>
<text x="284.19" y="422.9" font-size="7.9" text-anchor="middle">250</text>
<text x="309.16" y="422.9" font-size="7.9" text-anchor="middle">125</text>
<text x="334.13" y="422.9" font-size="7.9" text-anchor="middle">60</text>
<text x="359.1" y="422.9" font-size="7.9" text-anchor="middle">30</text>
<text x="384.07" y="422.9" font-size="7.9" text-anchor="middle">15</text>
<text x="409.04" y="422.9" font-size="7.9" text-anchor="middle">7.5</text>
<text x="434.01" y="422.9" font-size="7.9" text-anchor="middle">3</text>
<text x="345.8" y="437.3" font-size="10.6" text-anchor="middle">ng/mL</text>
<text x="246.2" y="363.15" font-size="8.0" text-anchor="middle" transform="rotate(-90 246.2 363.15)">A.U.</text>
<path d="M284.19 350.06V336.51M283.09 336.51H285.29M283.09 350.06H285.29" stroke="#333" stroke-width="0.8" fill="none"/>
<path d="M309.16 355.2V344.37M308.06 344.37H310.26M308.06 355.2H310.26" stroke="#333" stroke-width="0.8" fill="none"/>
<path d="M359.1 384.46V373.62M358 373.62H360.2M358 384.46H360.2" stroke="#333" stroke-width="0.8" fill="none"/>
<path d="M284.19 376.15V361.71M283.09 361.71H285.29M283.09 376.15H285.29" stroke="#333" stroke-width="0.8" fill="none"/>
<polyline points="284.19,345.72 309.16,349.79 334.13,362.07 359.1,379.04 384.07,389.34 409.04,396.11 434.01,400.26" fill="none" stroke="#111" stroke-width="1"/>
<polyline points="284.19,344.1 309.16,353.67 334.13,364.23 359.1,374.89 384.07,387.17 409.04,397.1 434.01,401.98" fill="none" stroke="#111" stroke-width="1"/>
<polyline points="284.19,368.93 309.16,377.33 334.13,389.7 359.1,395.57 384.07,399.72 409.04,401.35 434.01,402.79" fill="none" stroke="#111" stroke-width="1"/>
<polyline points="284.19,373.08 309.16,386.09 334.13,397.1 359.1,401.35 384.07,403.51 409.04,402.79 434.01,404.51" fill="none" stroke="#111" stroke-width="1"/>
<rect x="281.59" y="343.12" width="5.2" height="5.2" fill="#fff" stroke="#222" stroke-width="0.9"/>
<rect x="306.56" y="347.19" width="5.2" height="5.2" fill="#fff" stroke="#222" stroke-width="0.9"/>
<rect x="331.53" y="359.47" width="5.2" height="5.2" fill="#fff" stroke="#222" stroke-width="0.9"/>
<rect x="356.5" y="376.44" width="5.2" height="5.2" fill="#fff" stroke="#222" stroke-width="0.9"/>
<rect x="381.47" y="386.74" width="5.2" height="5.2" fill="#fff" stroke="#222" stroke-width="0.9"/>
<rect x="406.44" y="393.51" width="5.2" height="5.2" fill="#fff" stroke="#222" stroke-width="0.9"/>
<rect x="431.41" y="397.66" width="5.2" height="5.2" fill="#fff" stroke="#222" stroke-width="0.9"/>
<path d="M284.19 340.38L287.29 346.62H281.09Z" fill="#000"/>
<path d="M309.16 349.95L312.26 356.19H306.06Z" fill="#000"/>
<path d="M334.13 360.51L337.23 366.75H331.03Z" fill="#000"/>
<path d="M359.1 371.17L362.2 377.41H356Z" fill="#000"/>
<path d="M384.07 383.45L387.17 389.69H380.97Z" fill="#000"/>
<path d="M409.04 393.38L412.14 399.62H405.94Z" fill="#000"/>
<path d="M434.01 398.26L437.11 404.5H430.91Z" fill="#000"/>
<rect x="281.59" y="366.33" width="5.2" height="5.2" fill="#000"/>
<rect x="306.56" y="374.73" width="5.2" height="5.2" fill="#000"/>
<rect x="331.53" y="387.1" width="5.2" height="5.2" fill="#000"/>
<rect x="356.5" y="392.97" width="5.2" height="5.2" fill="#000"/>
<rect x="381.47" y="397.12" width="5.2" height="5.2" fill="#000"/>
<rect x="406.44" y="398.75" width="5.2" height="5.2" fill="#000"/>
<rect x="431.41" y="400.19" width="5.2" height="5.2" fill="#000"/>
<circle cx="284.19" cy="373.08" r="2.8" fill="#000"/>
<circle cx="309.16" cy="386.09" r="2.8" fill="#000"/>
<circle cx="334.13" cy="397.1" r="2.8" fill="#000"/>
<circle cx="359.1" cy="401.35" r="2.8" fill="#000"/>
<circle cx="384.07" cy="403.51" r="2.8" fill="#000"/>
<circle cx="409.04" cy="402.79" r="2.8" fill="#000"/>
<circle cx="434.01" cy="404.51" r="2.8" fill="#000"/>
<rect x="450.5" y="343.1" width="64.9" height="45.7" fill="#fff" stroke="#333" stroke-width="1.2"/>
<path d="M456 348.8H468" stroke="#222" stroke-width="1"/>
<rect x="459.1" y="345.9" width="5.8" height="5.8" fill="#fff" stroke="#222" stroke-width="0.9"/>
<text x="469.8" y="351.9" font-size="8.6">3DS1 ecto</text>
<path d="M456 360.5H468" stroke="#111" stroke-width="1"/>
<path d="M462 356.42L465.4 363.38H458.6Z" fill="#000"/>
<text x="469.8" y="363.6" font-size="8.6">3DS1 D0</text>
<path d="M456 371.2H468" stroke="#111" stroke-width="1"/>
<rect x="459.1" y="368.3" width="5.8" height="5.8" fill="#000"/>
<text x="469.8" y="374.3" font-size="8.6">3DS1 D1</text>
<path d="M456 382.3H468" stroke="#111" stroke-width="1"/>
<circle cx="462" cy="382.3" r="3.1" fill="#000"/>
<text x="469.8" y="385.4" font-size="8.6">3DS1 D2</text>
</svg>
</body></html>
